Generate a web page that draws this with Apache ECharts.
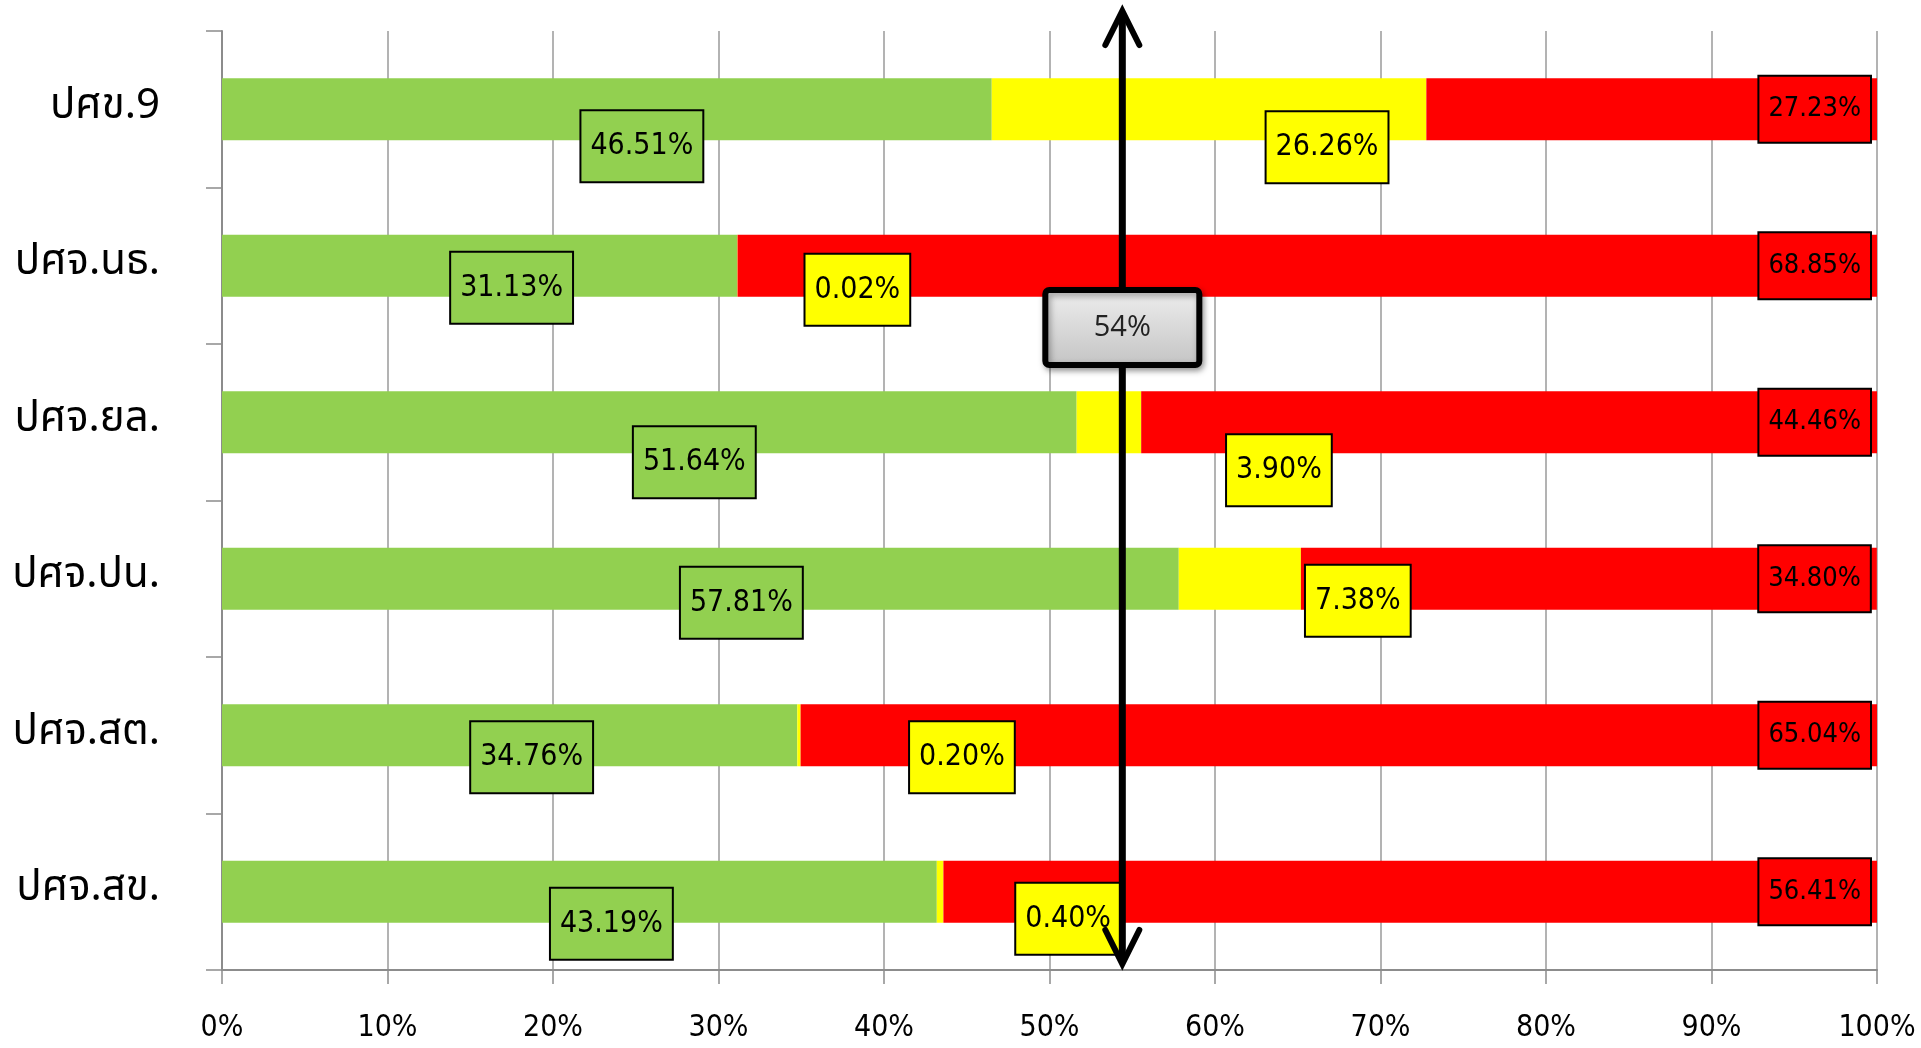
<!DOCTYPE html>
<html>
<head>
<meta charset="utf-8">
<script src="https://cdn.jsdelivr.net/npm/echarts@6/dist/echarts.min.js"></script>
<style>
html,body{margin:0;padding:0;background:#fff;}
#chart{width:1921px;height:1048px;}
</style>
</head>
<body>
<div id="chart"></div>
<script>
const categories = ['ปศข.9', 'ปศจ.นธ.', 'ปศจ.ยล.', 'ปศจ.ปน.', 'ปศจ.สต.', 'ปศจ.สข.'];
const greenValues = [46.51, 31.13, 51.64, 57.81, 34.76, 43.19];
const yellowValues = [26.26, 0.02, 3.90, 7.38, 0.20, 0.40];
const redValues = [27.23, 68.85, 44.46, 34.80, 65.04, 56.41];
const targetValue = 54.4;
const targetLabel = '54%';

// label placement offsets in pixels (style only)
const greenLabelOffsets = [[35, 37], [32, 22], [45, 40], [41, 24], [22, 22], [32, 32]];
const yellowLabelOffsets = [[118, 38], [120, 24], [170, 48], [118, 22], [163, 22], [128, 27]];

const NARROW = "'Liberation Sans Narrow', 'DejaVu Sans Condensed', 'Liberation Sans', sans-serif";
const THAI = "'Noto Sans Thai', 'Noto Sans Thai Looped', 'Loma', 'Garuda', 'Norasi', 'Tlwg Typo', 'DejaVu Sans', sans-serif";
const GREEN = '#92D050', YELLOW = '#FFFF00', RED = '#FF0000';

const fmt = p => p.value.toFixed(2) + '%';

function boxLabel(bg, size, pad) {
  return {
    show: true,
    formatter: fmt,
    color: '#000',
    fontFamily: NARROW,
    fontSize: size,
    lineHeight: size,
    backgroundColor: bg,
    borderColor: '#000',
    borderWidth: 2,
    padding: pad
  };
}

const chart = echarts.init(document.getElementById('chart'), null, {renderer: 'canvas'});

const option = {
  animation: false,
  grid: {left: 222, right: 44, top: 31, bottom: 78, containLabel: false},
  xAxis: {
    type: 'value',
    min: 0, max: 100, interval: 10,
    axisLine: {show: true, lineStyle: {color: '#8c8c8c', width: 2}},
    axisTick: {show: true, length: 14, lineStyle: {color: '#8c8c8c', width: 1.5}},
    axisLabel: {formatter: '{value}%', color: '#000', fontFamily: NARROW, fontSize: 30, margin: 43},
    splitLine: {show: true, lineStyle: {color: '#9a9a9a', width: 1.5}}
  },
  yAxis: {
    type: 'category',
    inverse: true,
    data: categories,
    axisLine: {show: true, lineStyle: {color: '#8c8c8c', width: 2}},
    axisTick: {show: true, length: 16, lineStyle: {color: '#8c8c8c', width: 1.5}},
    axisLabel: {color: '#000', fontFamily: THAI, fontSize: 42, margin: 62},
    splitLine: {show: false}
  },
  series: [
    {
      name: 'green', type: 'bar', stack: 'total', barWidth: 62,
      itemStyle: {color: GREEN},
      emphasis: {disabled: true},
      label: Object.assign(boxLabel(GREEN, 30, [20, 9, 20, 9]), {position: 'inside'}),
      data: greenValues.map((v, i) => ({value: v, label: {offset: greenLabelOffsets[i]}}))
    },
    {
      name: 'yellow', type: 'bar', stack: 'total', barWidth: 62,
      itemStyle: {color: YELLOW},
      emphasis: {disabled: true},
      label: Object.assign(boxLabel(YELLOW, 30, [20, 9, 20, 9]), {position: 'inside'}),
      data: yellowValues.map((v, i) => ({value: v, label: {offset: yellowLabelOffsets[i]}}))
    },
    {
      name: 'red', type: 'bar', stack: 'total', barWidth: 62,
      itemStyle: {color: RED},
      emphasis: {disabled: true},
      label: Object.assign(boxLabel(RED, 27, [19, 9, 19, 9]), {position: 'insideRight', distance: 7}),
      data: redValues.slice()
    }
  ]
};
chart.setOption(option);

// annotation arrow + target box positioned through the value axis
const px = chart.convertToPixel({xAxisIndex: 0}, targetValue);
const topTip = 11, botTip = 964, armDx = 17, armDy = 34;
chart.setOption({
  graphic: [
    {
      type: 'line', z: 100,
      shape: {x1: px, y1: topTip + 3, x2: px, y2: botTip - 3},
      style: {stroke: '#000', lineWidth: 7}
    },
    {
      type: 'polyline', z: 100,
      shape: {points: [[px - armDx, topTip + armDy], [px, topTip], [px + armDx, topTip + armDy]]},
      style: {stroke: '#000', lineWidth: 6, fill: null, lineCap: 'round', lineJoin: 'miter'}
    },
    {
      type: 'polyline', z: 100,
      shape: {points: [[px - armDx, botTip - armDy], [px, botTip], [px + armDx, botTip - armDy]]},
      style: {stroke: '#000', lineWidth: 6, fill: null, lineCap: 'round', lineJoin: 'miter'}
    },
    {
      type: 'rect', z: 101,
      shape: {x: px - 77, y: 290, width: 154, height: 75, r: 4},
      style: {
        fill: new echarts.graphic.LinearGradient(0, 0, 0, 1, [
          {offset: 0, color: '#efefef'}, {offset: 1, color: '#c3c3c3'}
        ]),
        stroke: '#000', lineWidth: 6,
        shadowBlur: 6, shadowColor: 'rgba(0,0,0,0.35)', shadowOffsetX: 2, shadowOffsetY: 3
      }
    },
    {
      type: 'text', z: 102,
      x: px, y: 328,
      style: {
        text: targetLabel, fill: '#222', fontSize: 29, fontFamily: "'Open Sans', 'Noto Sans', sans-serif",
        align: 'center', verticalAlign: 'middle'
      }
    }
  ]
});
</script>
</body>
</html>
